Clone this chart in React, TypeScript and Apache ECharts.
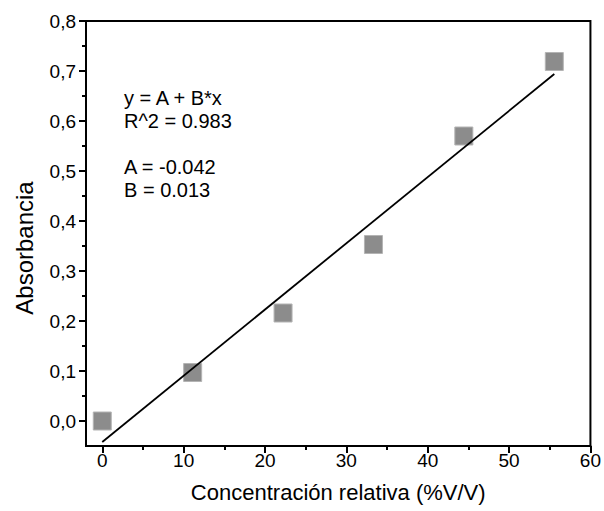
import React, { useEffect, useRef } from "react";
import * as echarts from "echarts";

const concentration = [0, 11.11, 22.22, 33.33, 44.44, 55.56];
const absorbance = [0.0, 0.097, 0.216, 0.353, 0.57, 0.719];
const fitX = [0, 55.56];
const fitY = [-0.042, 0.694];
const xMajorTicks = [0, 10, 20, 30, 40, 50, 60];
const xMinorTicks = [5, 15, 25, 35, 45, 55];
const yMajorTicks = [0, 0.1, 0.2, 0.3, 0.4, 0.5, 0.6, 0.7, 0.8];
const yMinorTicks = [0.05, 0.15, 0.25, 0.35, 0.45, 0.55, 0.65, 0.75];
const fitText = ["y = A + B*x", "R^2 = 0.983", "", "A = -0.042", "B = 0.013"];
const xTitle = "Concentración relativa (%V/V)";
const yTitle = "Absorbancia";

const FONT = "'Liberation Sans', Arial, sans-serif";

export default function App() {
  const ref = useRef<HTMLDivElement>(null);
  useEffect(() => {
    if (!ref.current) return;
    const chart = echarts.init(ref.current, null, { renderer: "svg" });
    const common = { min: -2, max: 60, type: "value" as const };
    const yCommon = { min: -0.05, max: 0.8, type: "value" as const };
    chart.setOption({
      animation: false,
      backgroundColor: "#fff",
      textStyle: { fontFamily: FONT },
      grid: {
        left: 86,
        top: 21,
        right: 13,
        bottom: 65,
        show: true,
        borderColor: "#000",
        borderWidth: 2,
      },
      xAxis: [
        {
          ...common,
          position: "bottom",
          name: xTitle,
          nameLocation: "middle",
          nameGap: 35,
          nameTextStyle: { fontSize: 22, color: "#000", fontFamily: FONT },
          axisLine: { show: true, onZero: false, lineStyle: { color: "#000", width: 2 } },
          axisTick: { show: true, length: 7, customValues: xMajorTicks, lineStyle: { color: "#000", width: 2 } },
          axisLabel: { customValues: xMajorTicks, fontSize: 19, color: "#000", margin: 5, fontFamily: FONT },
          splitLine: { show: false },
        },
        {
          ...common,
          position: "bottom",
          axisLine: { show: false, onZero: false },
          axisTick: { show: true, length: 4, customValues: xMinorTicks, lineStyle: { color: "#000", width: 2 } },
          axisLabel: { show: false },
          splitLine: { show: false },
        },
      ],
      yAxis: [
        {
          ...yCommon,
          position: "left",
          axisLine: { show: true, onZero: false, lineStyle: { color: "#000", width: 2 } },
          axisTick: { show: true, length: 7, customValues: yMajorTicks, lineStyle: { color: "#000", width: 2 } },
          axisLabel: {
            customValues: yMajorTicks,
            fontSize: 19,
            color: "#000",
            margin: 10,
            fontFamily: FONT,
            formatter: (v: number) => v.toFixed(1).replace(".", ","),
          },
          splitLine: { show: false },
        },
        {
          ...yCommon,
          position: "left",
          axisLine: { show: false, onZero: false },
          axisTick: { show: true, length: 4, customValues: yMinorTicks, lineStyle: { color: "#000", width: 2 } },
          axisLabel: { show: false },
          splitLine: { show: false },
        },
      ],
      graphic: [
        {
          type: "text",
          left: 124,
          top: 86,
          style: {
            text: fitText.join("\n"),
            fontSize: 20,
            lineHeight: 23,
            fill: "#000",
            fontFamily: FONT,
          },
        },
        {
          type: "text",
          x: 24,
          y: 248,
          rotation: Math.PI / 2,
          style: {
            text: yTitle,
            fontSize: 24,
            fill: "#000",
            fontFamily: FONT,
            align: "center",
            verticalAlign: "middle",
          },
        },
      ],
      series: [
        {
          type: "line",
          data: fitX.map((x, i) => [x, fitY[i]]),
          showSymbol: false,
          symbol: "none",
          lineStyle: { color: "#000", width: 1.8 },
          z: 3,
        },
        {
          type: "scatter",
          data: concentration.map((x, i) => [x, absorbance[i]]),
          symbol: "rect",
          symbolSize: 18,
          itemStyle: { color: "#8c8c8c", borderColor: "#b4b4b4", borderWidth: 1, opacity: 1 },
          z: 2,
        },
      ],
    });
    return () => chart.dispose();
  }, []);
  return (
    <div
      ref={ref}
      style={{ position: "fixed", left: 0, top: 0, width: 604, height: 511, background: "#fff" }}
    />
  );
}
